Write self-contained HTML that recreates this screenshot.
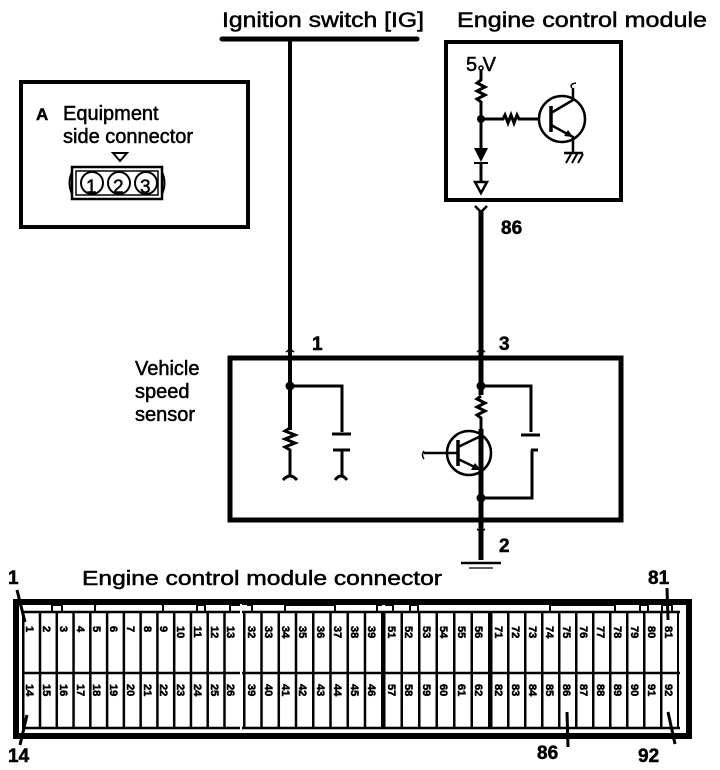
<!DOCTYPE html>
<html><head><meta charset="utf-8"><style>
html,body{margin:0;padding:0;background:#fff;}
svg{display:block;}
text{font-family:"Liberation Sans",sans-serif;fill:#000;stroke:#000;stroke-width:0.5;}
.n{font-size:11px;font-weight:bold;stroke-width:0.3;}
</style></head><body>
<svg width="720" height="770" viewBox="0 0 720 770" xmlns="http://www.w3.org/2000/svg">
<defs>
<pattern id="g1" x="22" y="0" width="16.77" height="10" patternUnits="userSpaceOnUse"><rect x="0" y="0" width="2.5" height="10" fill="#000"/></pattern>
<pattern id="g2" x="243" y="0" width="17.25" height="10" patternUnits="userSpaceOnUse"><rect x="0" y="0" width="2.5" height="10" fill="#000"/></pattern>
<pattern id="g3" x="383" y="0" width="17.5" height="10" patternUnits="userSpaceOnUse"><rect x="0" y="0" width="2.5" height="10" fill="#000"/></pattern>
<pattern id="g4" x="490" y="0" width="17" height="10" patternUnits="userSpaceOnUse"><rect x="0" y="0" width="2.5" height="10" fill="#000"/></pattern>
</defs>

<text x="222" y="27" font-size="21" textLength="202" lengthAdjust="spacingAndGlyphs">Ignition switch [IG]</text>
<line x1="222" y1="39" x2="417" y2="39" stroke="#000" stroke-width="5" stroke-linecap="round"/>
<line x1="290" y1="39" x2="290" y2="430" stroke="#000" stroke-width="4"/>

<text x="457" y="27" font-size="21" textLength="250" lengthAdjust="spacingAndGlyphs">Engine control module</text>
<rect x="446" y="42" width="175" height="158" fill="none" stroke="#000" stroke-width="4"/>
<text x="466" y="71" font-size="20">5 V</text>
<circle cx="481" cy="68" r="2" fill="none" stroke="#000" stroke-width="1.5"/>
<path d="M481 70 V80 l-4 3 l8 4 l-8 4 l8 4 l-8 4 l4 3 V150" fill="none" stroke="#000" stroke-width="3"/>
<circle cx="481" cy="119" r="4" fill="#000"/>
<path d="M481 119 H503 l2 -4 l3 8 l3 -8 l3 8 l3 -8 l2 4 H540" fill="none" stroke="#000" stroke-width="3"/>
<polygon points="474,148 488,148 481,162" fill="#000"/>
<line x1="474" y1="163" x2="488" y2="163" stroke="#000" stroke-width="2"/>
<line x1="481" y1="162" x2="481" y2="182" stroke="#000" stroke-width="3"/>
<polygon points="475,182 487,182 481,193" fill="none" stroke="#000" stroke-width="2.5"/>
<circle cx="562" cy="119" r="23" fill="none" stroke="#000" stroke-width="2.5"/>
<line x1="551" y1="106" x2="551" y2="132" stroke="#000" stroke-width="3.5"/>
<path d="M551 113 L573 100 V88 M551 125 L573 137 V153" fill="none" stroke="#000" stroke-width="2.5"/>
<path d="M572 88 q-3 -4 4 -5" fill="none" stroke="#000" stroke-width="1.5"/>
<polygon points="573,137 564,136 568,130" fill="#000"/>
<line x1="564" y1="153" x2="583" y2="153" stroke="#000" stroke-width="2.5"/>
<path d="M566 163 l5 -9 M572 163 l5 -9 M578 163 l5 -9" stroke="#000" stroke-width="2"/>
<path d="M475 206 L481 212 L487 206" fill="none" stroke="#000" stroke-width="2.5"/>
<line x1="481" y1="211" x2="481" y2="560" stroke="#000" stroke-width="5"/>
<text x="501" y="234" font-size="19" font-weight="bold">86</text>

<rect x="21" y="82" width="227" height="145" fill="none" stroke="#000" stroke-width="4"/>
<text x="36" y="120" font-size="17" font-weight="bold">A</text>
<text x="63" y="120" font-size="20">Equipment</text>
<text x="63" y="143" font-size="20">side connector</text>
<polygon points="113,153 127,153 120,161" fill="none" stroke="#000" stroke-width="2"/>
<rect x="72" y="167" width="90" height="32" fill="none" stroke="#000" stroke-width="2.5"/>
<rect x="76" y="171" width="82" height="24" fill="none" stroke="#000" stroke-width="1.5"/>
<path d="M72 172 q-5 11 0 22 M162 172 q5 11 0 22" fill="none" stroke="#000" stroke-width="2"/>
<circle cx="92" cy="183" r="11" fill="none" stroke="#000" stroke-width="2"/>
<circle cx="119" cy="183" r="11" fill="none" stroke="#000" stroke-width="2"/>
<circle cx="146" cy="183" r="11" fill="none" stroke="#000" stroke-width="2"/>
<text x="86" y="193" font-size="19">1</text>
<text x="113" y="193" font-size="19">2</text>
<text x="140" y="193" font-size="19">3</text>

<text x="135" y="375" font-size="20">Vehicle</text>
<text x="135" y="398" font-size="20">speed</text>
<text x="135" y="421" font-size="20">sensor</text>
<rect x="230" y="358" width="391" height="162" fill="none" stroke="#000" stroke-width="5"/>
<text x="312" y="350" font-size="19" font-weight="bold">1</text>
<text x="499" y="350" font-size="19" font-weight="bold">3</text>
<text x="499" y="552" font-size="19" font-weight="bold">2</text>
<path d="M286 352 l4 -3 l4 3 M477 352 l4 -3 l4 3 M477 529 l4 3 l4 -3" fill="none" stroke="#000" stroke-width="1.5"/>
<circle cx="290" cy="386" r="4.5" fill="#000"/>
<path d="M290 386 H342 V432" fill="none" stroke="#000" stroke-width="3"/>
<line x1="332" y1="434" x2="351" y2="434" stroke="#000" stroke-width="3"/>
<line x1="333" y1="450" x2="350" y2="450" stroke="#000" stroke-width="3"/>
<path d="M342 450 V475 M335 480 q6 -8 12 0" fill="none" stroke="#000" stroke-width="3"/>
<path d="M290 428 l-5 3 l10 4 l-10 4 l10 4 l-10 4 l5 3 V475 M283 480 q7 -8 14 0" fill="none" stroke="#000" stroke-width="3"/>
<circle cx="481" cy="386" r="4.5" fill="#000"/>
<path d="M481 386 H531 V432" fill="none" stroke="#000" stroke-width="3"/>
<line x1="521" y1="435" x2="540" y2="435" stroke="#000" stroke-width="3"/>
<path d="M531 450 H538 M532 450 V498 H481" fill="none" stroke="#000" stroke-width="3"/>
<rect x="476" y="395" width="10" height="34" fill="#fff"/>
<path d="M481 396 l-4 3 l8 4 l-8 4 l8 4 l-8 4 l4 3 V436" fill="none" stroke="#000" stroke-width="3"/>
<circle cx="469" cy="453" r="22" fill="none" stroke="#000" stroke-width="2.5"/>
<line x1="458" y1="440" x2="458" y2="466" stroke="#000" stroke-width="3.5"/>
<path d="M424 453 H458 M458 447 L481 436 M458 459 L481 470 V498" fill="none" stroke="#000" stroke-width="2.5"/>
<path d="M424 451 q-3 4 0 8" fill="none" stroke="#000" stroke-width="1.5"/>
<polygon points="481,470 471,470 475,463" fill="#000"/>
<circle cx="481" cy="498" r="4.5" fill="#000"/>
<line x1="461" y1="563" x2="501" y2="563" stroke="#000" stroke-width="2.5"/>
<line x1="469" y1="568" x2="493" y2="568" stroke="#000" stroke-width="1.2"/>

<text x="82" y="585" font-size="20" textLength="360" lengthAdjust="spacingAndGlyphs">Engine control module connector</text>
<text x="8" y="584" font-size="19" font-weight="bold">1</text>
<text x="648" y="584" font-size="19" font-weight="bold">81</text>
<text x="8" y="762" font-size="19" font-weight="bold">14</text>
<text x="537" y="759" font-size="19" font-weight="bold">86</text>
<text x="638" y="762" font-size="19" font-weight="bold">92</text>
<path d="M17 590 L25 622 M20 745 L27 715 M568 747 L567 712 M667 588 L668 620 M675 744 L668 712" stroke="#000" stroke-width="3"/>
<rect x="16" y="602" width="673" height="134" fill="none" stroke="#000" stroke-width="6"/>
<path d="M52 612 V605 H62 V612 M95 612 V605 L98 603 H160 L163 605 V612 M197 612 V605 H205 V612 M230 612 V605 H240 M247 605 H252 V612 M285 612 V605 H335 V612 M377 612 V605 H382 M385 605 H393 V612 M410 612 V605 H418 V612 M550 612 V605 H615 V612 M640 612 V605 H648 V612 M662 612 V605 H672 V612" fill="none" stroke="#000" stroke-width="2"/>
<rect x="22" y="612" width="220" height="116" fill="url(#g1)"/>
<rect x="243" y="612" width="140" height="116" fill="url(#g2)"/>
<rect x="383" y="612" width="107" height="116" fill="url(#g3)"/>
<rect x="490" y="612" width="189" height="116" fill="url(#g4)"/>
<line x1="22" y1="612" x2="680" y2="612" stroke="#000" stroke-width="2.5"/>
<line x1="22" y1="673" x2="680" y2="673" stroke="#000" stroke-width="2.5"/>
<line x1="22" y1="728" x2="680" y2="728" stroke="#000" stroke-width="2.5"/>
<line x1="241" y1="604" x2="241" y2="733" stroke="#fff" stroke-width="2"/>
<g class="n">
<text transform="translate(26,626) rotate(90)">1</text>
<text transform="translate(43,626) rotate(90)">2</text>
<text transform="translate(60,626) rotate(90)">3</text>
<text transform="translate(77,626) rotate(90)">4</text>
<text transform="translate(93,626) rotate(90)">5</text>
<text transform="translate(110,626) rotate(90)">6</text>
<text transform="translate(127,626) rotate(90)">7</text>
<text transform="translate(144,626) rotate(90)">8</text>
<text transform="translate(160,626) rotate(90)">9</text>
<text transform="translate(177,626) rotate(90)">10</text>
<text transform="translate(194,626) rotate(90)">11</text>
<text transform="translate(211,626) rotate(90)">12</text>
<text transform="translate(227,626) rotate(90)">13</text>
<text transform="translate(248,626) rotate(90)">32</text>
<text transform="translate(265,626) rotate(90)">33</text>
<text transform="translate(282,626) rotate(90)">34</text>
<text transform="translate(299,626) rotate(90)">35</text>
<text transform="translate(317,626) rotate(90)">36</text>
<text transform="translate(334,626) rotate(90)">37</text>
<text transform="translate(351,626) rotate(90)">38</text>
<text transform="translate(368,626) rotate(90)">39</text>
<text transform="translate(388,626) rotate(90)">51</text>
<text transform="translate(405,626) rotate(90)">52</text>
<text transform="translate(423,626) rotate(90)">53</text>
<text transform="translate(440,626) rotate(90)">54</text>
<text transform="translate(458,626) rotate(90)">55</text>
<text transform="translate(475,626) rotate(90)">56</text>
<text transform="translate(495,626) rotate(90)">71</text>
<text transform="translate(512,626) rotate(90)">72</text>
<text transform="translate(529,626) rotate(90)">73</text>
<text transform="translate(546,626) rotate(90)">74</text>
<text transform="translate(563,626) rotate(90)">75</text>
<text transform="translate(580,626) rotate(90)">76</text>
<text transform="translate(597,626) rotate(90)">77</text>
<text transform="translate(614,626) rotate(90)">78</text>
<text transform="translate(631,626) rotate(90)">79</text>
<text transform="translate(648,626) rotate(90)">80</text>
<text transform="translate(665,626) rotate(90)">81</text>
<text transform="translate(26,684) rotate(90)">14</text>
<text transform="translate(43,684) rotate(90)">15</text>
<text transform="translate(60,684) rotate(90)">16</text>
<text transform="translate(77,684) rotate(90)">17</text>
<text transform="translate(93,684) rotate(90)">18</text>
<text transform="translate(110,684) rotate(90)">19</text>
<text transform="translate(127,684) rotate(90)">20</text>
<text transform="translate(144,684) rotate(90)">21</text>
<text transform="translate(160,684) rotate(90)">22</text>
<text transform="translate(177,684) rotate(90)">23</text>
<text transform="translate(194,684) rotate(90)">24</text>
<text transform="translate(211,684) rotate(90)">25</text>
<text transform="translate(227,684) rotate(90)">26</text>
<text transform="translate(248,684) rotate(90)">39</text>
<text transform="translate(265,684) rotate(90)">40</text>
<text transform="translate(282,684) rotate(90)">41</text>
<text transform="translate(299,684) rotate(90)">42</text>
<text transform="translate(317,684) rotate(90)">43</text>
<text transform="translate(334,684) rotate(90)">44</text>
<text transform="translate(351,684) rotate(90)">45</text>
<text transform="translate(368,684) rotate(90)">46</text>
<text transform="translate(388,684) rotate(90)">57</text>
<text transform="translate(405,684) rotate(90)">58</text>
<text transform="translate(423,684) rotate(90)">59</text>
<text transform="translate(440,684) rotate(90)">60</text>
<text transform="translate(458,684) rotate(90)">61</text>
<text transform="translate(475,684) rotate(90)">62</text>
<text transform="translate(495,684) rotate(90)">82</text>
<text transform="translate(512,684) rotate(90)">83</text>
<text transform="translate(529,684) rotate(90)">84</text>
<text transform="translate(546,684) rotate(90)">85</text>
<text transform="translate(563,684) rotate(90)">86</text>
<text transform="translate(580,684) rotate(90)">87</text>
<text transform="translate(597,684) rotate(90)">88</text>
<text transform="translate(614,684) rotate(90)">89</text>
<text transform="translate(631,684) rotate(90)">90</text>
<text transform="translate(648,684) rotate(90)">91</text>
<text transform="translate(665,684) rotate(90)">92</text>
</g>
</svg>
</body></html>
